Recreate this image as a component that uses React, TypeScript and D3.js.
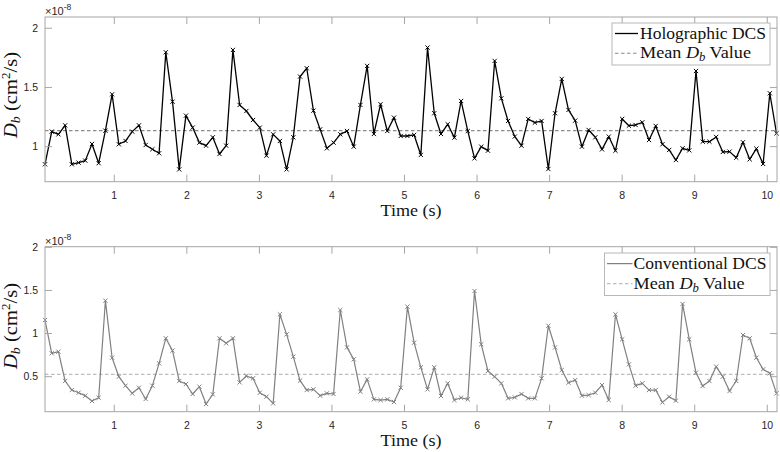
import React from 'react';
import * as d3 from 'd3';

// ---------- data ----------
const TIME_START = 0.045; // s, first sample
const TIME_STEP = 0.0925; // s, sampling interval

const holographic = [
  0.851, 1.127, 1.104, 1.180, 0.851, 0.865, 0.882, 1.023, 0.860, 1.135,
  1.442, 1.020, 1.048, 1.127, 1.180, 1.014, 0.978, 0.944, 1.797, 1.380,
  0.808, 1.262, 1.161, 1.034, 1.008, 1.079, 0.938, 1.008, 1.817, 1.352,
  1.301, 1.225, 1.161, 0.924, 1.104, 1.048, 0.808, 1.079, 1.592, 1.662,
  1.304, 1.146, 0.986, 1.034, 1.104, 1.132, 1.000, 1.352, 1.682, 1.107,
  1.358, 1.132, 1.245, 1.090, 1.090, 1.099, 0.930, 1.837, 1.282, 1.107,
  1.189, 1.076, 1.386, 1.132, 0.901, 1.000, 0.966, 1.724, 1.408, 1.217,
  1.085, 1.008, 1.234, 1.203, 1.217, 0.811, 1.282, 1.572, 1.310, 1.220,
  1.000, 1.141, 1.079, 0.977, 1.085, 0.966, 1.234, 1.177, 1.183, 1.206,
  1.056, 1.175, 1.020, 0.972, 0.887, 0.986, 0.969, 1.639, 1.042, 1.042,
  1.082, 0.955, 0.958, 0.907, 1.037, 0.893, 0.983, 0.854, 1.451, 1.113,
];

const conventional = [
  1.157, 0.771, 0.790, 0.450, 0.345, 0.314, 0.280, 0.218, 0.256, 1.381,
  0.720, 0.500, 0.396, 0.307, 0.372, 0.241, 0.396, 0.655, 0.945, 0.802,
  0.450, 0.415, 0.299, 0.384, 0.183, 0.295, 0.945, 0.887, 0.945, 0.434,
  0.508, 0.481, 0.314, 0.268, 0.191, 1.223, 0.991, 0.732, 0.454, 0.345,
  0.353, 0.280, 0.307, 0.299, 1.273, 0.840, 0.701, 0.326, 0.469, 0.237,
  0.229, 0.237, 0.206, 0.372, 1.312, 0.894, 0.608, 0.353, 0.608, 0.276,
  0.423, 0.229, 0.256, 0.237, 1.493, 0.875, 0.566, 0.500, 0.423, 0.249,
  0.260, 0.299, 0.249, 0.249, 0.481, 1.091, 0.840, 0.577, 0.430, 0.461,
  0.280, 0.287, 0.314, 0.403, 0.229, 1.223, 0.933, 0.643, 0.396, 0.423,
  0.345, 0.345, 0.202, 0.268, 0.222, 1.343, 0.933, 0.546, 0.392, 0.450,
  0.616, 0.500, 0.334, 0.450, 0.983, 0.945, 0.720, 0.585, 0.539, 0.307,
];

const holoMean = 1.135;
const convMean = 0.527;

const xTicks = [1, 2, 3, 4, 5, 6, 7, 8, 9, 10];
const topYTicks = [1, 1.5, 2];
const bottomYTicks = [0.5, 1, 1.5, 2];
const topYDomain = [0.704, 2.095];
const bottomYDomain = [0.094, 2.007];
const xDomain = [0.045, 10.134];

// ---------- layout ----------
const W = 780;
const H = 452;
const LEFT = 45;
const RIGHT = 777;
const AXIS_COLOR = '#a6a6a6';
const TICK_TEXT = '#262626';
const SANS = '"Liberation Sans", Arial, Helvetica, sans-serif';
const SERIF = '"Liberation Serif", "Times New Roman", serif';
const TICK_LEN = 7;

type PanelProps = {
  values: number[];
  mean: number;
  top: number;
  bottom: number;
  yDomain: number[];
  yTicks: number[];
  color: string;
  lineWidth: number;
  meanColor: string;
  label: string;
  legend: { x0: number; x1: number; y0: number; y1: number; lineX0: number; lineX1: number; textX: number; w1: number; w2: number };
  yLabelCenter: number;
};

function Panel(p: PanelProps) {
  const x = d3.scaleLinear().domain(xDomain).range([LEFT, RIGHT]);
  const y = d3.scaleLinear().domain(p.yDomain).range([p.bottom, p.top]);
  const pts = p.values.map((v, i) => [TIME_START + i * TIME_STEP, v] as [number, number]);
  const line = d3
    .line<[number, number]>()
    .x((d) => x(d[0]))
    .y((d) => y(d[1]));
  const m = 2.1;
  const L = p.legend;
  const row1 = L.y0 + (L.y1 - L.y0) * 0.25;
  const row2 = L.y0 + (L.y1 - L.y0) * 0.72;
  return (
    <g>
      {/* mean line */}
      <line
        x1={LEFT}
        x2={RIGHT}
        y1={y(p.mean)}
        y2={y(p.mean)}
        stroke={p.meanColor}
        strokeWidth={1.2}
        strokeDasharray="3.5,2.5"
      />
      {/* data line */}
      <path d={line(pts) || ''} fill="none" stroke={p.color} strokeWidth={p.lineWidth} strokeLinejoin="round" />
      {pts.map((d, i) => {
        const cx = x(d[0]);
        const cy = y(d[1]);
        return (
          <path
            key={i}
            d={`M${cx - m},${cy - m}L${cx + m},${cy + m}M${cx - m},${cy + m}L${cx + m},${cy - m}`}
            stroke={p.color}
            strokeWidth={1}
            fill="none"
          />
        );
      })}
      {/* box */}
      <rect x={LEFT} y={p.top} width={RIGHT - LEFT} height={p.bottom - p.top} fill="none" stroke={AXIS_COLOR} strokeWidth={1} />
      {/* x ticks */}
      {xTicks.map((t) => (
        <g key={'x' + t}>
          <line x1={x(t)} x2={x(t)} y1={p.bottom} y2={p.bottom - TICK_LEN} stroke={AXIS_COLOR} />
          <line x1={x(t)} x2={x(t)} y1={p.top} y2={p.top + TICK_LEN} stroke={AXIS_COLOR} />
          <text x={x(t)} y={p.bottom + 17} textAnchor="middle" fontFamily={SANS} fontSize={10.5} fill={TICK_TEXT}>
            {t}
          </text>
        </g>
      ))}
      {/* y ticks */}
      {p.yTicks.map((t) => (
        <g key={'y' + t}>
          <line x1={LEFT} x2={LEFT + TICK_LEN} y1={y(t)} y2={y(t)} stroke={AXIS_COLOR} />
          <line x1={RIGHT} x2={RIGHT - TICK_LEN} y1={y(t)} y2={y(t)} stroke={AXIS_COLOR} />
          <text x={LEFT - 7} y={y(t) + 3.8} textAnchor="end" fontFamily={SANS} fontSize={10.5} fill={TICK_TEXT}>
            {String(t)}
          </text>
        </g>
      ))}
      {/* exponent */}
      <text x={LEFT} y={p.top - 2} fontFamily={SANS} fontSize={11} fill={TICK_TEXT}>
        ×10
        <tspan dy={-5} fontSize={8.5}>
          -8
        </tspan>
      </text>
      {/* x label */}
      <text
        x={(LEFT + RIGHT) / 2}
        y={p.bottom + 34}
        textAnchor="middle"
        fontFamily={SERIF}
        fontSize={17.5}
        fill="#111"
        textLength={61}
        lengthAdjust="spacingAndGlyphs"
      >
        Time (s)
      </text>
      {/* y label */}
      <text
        transform={`translate(17,${p.yLabelCenter}) rotate(-90)`}
        textAnchor="middle"
        fontFamily={SERIF}
        fontSize={19}
        fill="#111"
        textLength={86}
        lengthAdjust="spacingAndGlyphs"
      >
        <tspan fontStyle="italic">D</tspan>
        <tspan fontStyle="italic" fontSize={13} dy={3}>
          b
        </tspan>
        <tspan dy={-3}> (cm</tspan>
        <tspan fontSize={12} dy={-7}>
          2
        </tspan>
        <tspan dy={7}>/s)</tspan>
      </text>
      {/* legend */}
      <rect x={L.x0} y={L.y0} width={L.x1 - L.x0} height={L.y1 - L.y0} fill="#fff" stroke="#b8b8b8" strokeWidth={1} />
      <line x1={L.lineX0} x2={L.lineX1} y1={row1} y2={row1} stroke={p.color} strokeWidth={p.lineWidth} />
      <line
        x1={L.lineX0}
        x2={L.lineX1}
        y1={row2}
        y2={row2}
        stroke={p.meanColor}
        strokeWidth={1.2}
        strokeDasharray="3.5,2.5"
      />
      <text
        x={L.textX}
        y={row1 + 5}
        fontFamily={SERIF}
        fontSize={16.5}
        fill="#111"
        textLength={L.w1}
        lengthAdjust="spacingAndGlyphs"
      >
        {p.label}
      </text>
      <text
        x={L.textX}
        y={row2 + 5}
        fontFamily={SERIF}
        fontSize={16.5}
        fill="#111"
        textLength={L.w2}
        lengthAdjust="spacingAndGlyphs"
      >
        Mean{' '}
        <tspan fontStyle="italic">D</tspan>
        <tspan fontStyle="italic" fontSize={11.5} dy={3}>
          b
        </tspan>
        <tspan dy={-3}> Value</tspan>
      </text>
    </g>
  );
}

export default function App() {
  return (
    <svg
      width={W}
      height={H}
      viewBox={`0 0 ${W} ${H}`}
      style={{ position: 'absolute', left: 0, top: 0, background: '#fff' }}
    >
      <rect x={0} y={0} width={W} height={H} fill="#fff" />
      <Panel
        values={holographic}
        mean={holoMean}
        top={17}
        bottom={181.7}
        yDomain={topYDomain}
        yTicks={topYTicks}
        color="#000"
        lineWidth={1.3}
        meanColor="#8a8a8a"
        label="Holographic DCS"
        legend={{ x0: 612, x1: 770, y0: 23, y1: 65, lineX0: 615, lineX1: 638, textX: 640, w1: 126, w2: 111 }}
        yLabelCenter={95}
      />
      <Panel
        values={conventional}
        mean={convMean}
        top={246.7}
        bottom={411.7}
        yDomain={bottomYDomain}
        yTicks={bottomYTicks}
        color="#808080"
        lineWidth={1.2}
        meanColor="#bdbdbd"
        label="Conventional DCS"
        legend={{ x0: 604.5, x1: 770, y0: 253, y1: 295.5, lineX0: 607, lineX1: 632.5, textX: 633.5, w1: 133, w2: 111 }}
        yLabelCenter={326}
      />
    </svg>
  );
}
